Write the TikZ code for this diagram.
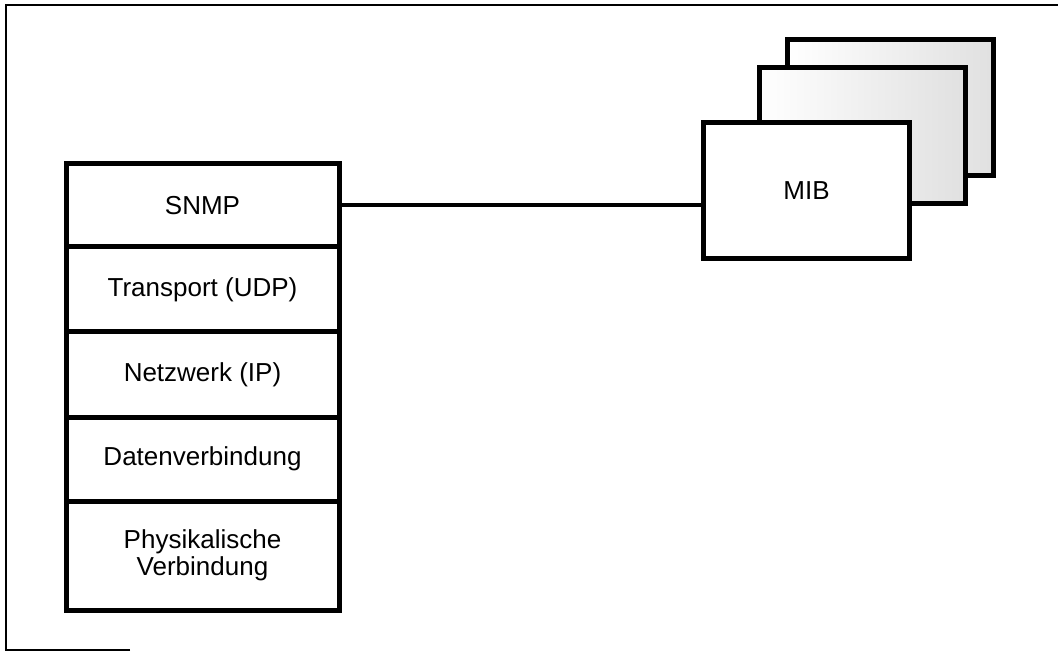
\documentclass[tikz,border=0pt]{standalone}
\usepackage{fontspec}
\setmainfont{Liberation Sans}
\begin{document}
\begin{tikzpicture}[x=1pt,y=-1pt,
  layer/.style={draw, line width=5pt, minimum width=273pt, inner sep=0pt, outer sep=0pt,
    align=center, font=\fontsize{26}{27}\selectfont, fill=white},
  mibcard/.style={draw, line width=5pt, minimum width=206pt, minimum height=136pt,
    inner sep=0pt, outer sep=0pt, font=\fontsize{26}{27}\selectfont},
  backcard/.style={mibcard, left color=white, middle color=white, right color=black!12},
  frameline/.style={line width=2pt},
  link/.style={line width=4pt}]
\useasboundingbox (0,0) rectangle (1058,652);

% open frame around the figure
\coordinate (fbl) at (6,650);
\coordinate (ftl) at (6,5);
\coordinate (ftr) at (1058,5);
\coordinate (fbe) at (130,650);
\draw[frameline] (fbe) -- (fbl) -- (ftl) -- (ftr);

% protocol stack
\node[layer, minimum height=83pt]  (snmp)  at (202.5,205.5) {SNMP};
\node[layer, minimum height=85pt]  (udp)   at (202.5,289.5) {Transport (UDP)};
\node[layer, minimum height=85pt]  (ip)    at (202.5,374.5) {Netzwerk (IP)};
\node[layer, minimum height=84pt]  (dl)    at (202.5,459)   {Datenverbindung};
\node[layer, minimum height=109pt] (phys)  at (202.5,555.5) {Physikalische\\Verbindung};

% stacked MIB cards
\node[backcard] (mib3) at (890.5,108) {};
\node[backcard] (mib2) at (862.5,136) {};
\node[mibcard, fill=white] (mib1) at (806.5,190.5) {MIB};

% agent to MIB
\draw[link] (snmp.east) -- (snmp.east -| mib1.west);
\end{tikzpicture}
\end{document}
